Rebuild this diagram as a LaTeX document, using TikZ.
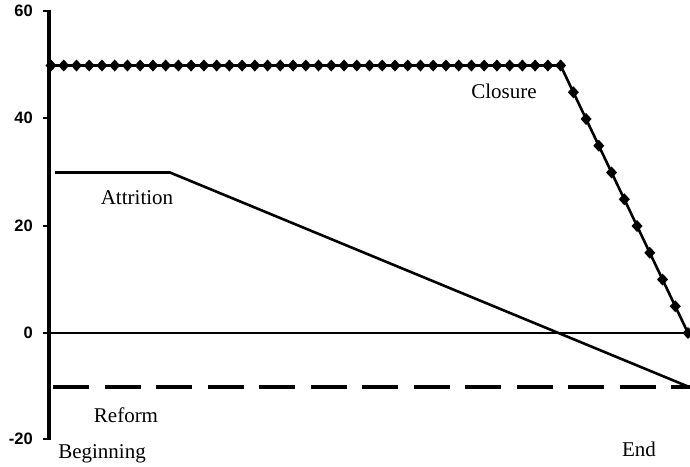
\documentclass[tikz,border=0pt]{standalone}
\usepackage{fontspec}
\setmainfont{Liberation Serif}
\newfontfamily\tickfont{Liberation Sans}
\begin{document}
\begin{tikzpicture}[x=1pt,y=-1pt,
  axisline/.style={line width=3.3pt},
  dataline/.style={line width=2.6pt},
  reformline/.style={line width=4pt,dash pattern=on 36pt off 15.5pt},
  ticklbl/.style={anchor=east,font=\tickfont\bfseries\fontsize{16.5}{16.5}\selectfont,inner sep=0pt},
  lbl/.style={font=\fontsize{21}{21}\selectfont,inner sep=0pt}]
\useasboundingbox (0,0) rectangle (690,466);
\fill[white] (0,0) rectangle (690,466);
% axis
\coordinate (atop) at (49,10);
\coordinate (abot) at (49,440);
\draw[axisline] (atop) -- (abot);
\foreach \v/\yy in {60/11,40/118,20/226,0/333,-20/439}{
  \draw[line width=2.8pt] (43,\yy) -- (49,\yy);
  \node[ticklbl] at (33,\yy) {\v};
}
% zero line
\coordinate (z0) at (49,333);
\coordinate (z1) at (688,333);
\draw[dataline] (z0) -- (z1);
% reform
\coordinate (r0) at (53,386.5);
\coordinate (r1) at (690,386.5);
\draw[reformline] (r0) -- (r1);
% attrition
\coordinate (a0) at (55,172.5);
\coordinate (a1) at (170,172.5);
\coordinate (a2) at (688,386.5);
\draw[dataline] (a0) -- (a1) -- (a2);
% closure
\coordinate (c0) at (51,65.5);
\coordinate (c1) at (560.6,65.5);
\coordinate (c2) at (688,333);
\draw[dataline] (c0) -- (c1) -- (c2);
\foreach \i in {0,...,40}{
  \fill ({51+12.74*\i},65.5) +(0,-6) -- +(5.5,0) -- +(0,6) -- +(-5.5,0) -- cycle;
}
\foreach \i in {41,...,50}{
  \fill ({51+12.74*\i},{333-5.35*(50-5*(\i-40))}) +(0,-6) -- +(5.5,0) -- +(0,6) -- +(-5.5,0) -- cycle;
}
% labels
\node[lbl] (closure) at (504,91) {Closure};
\node[lbl] (attrition) at (137,198) {Attrition};
\node[lbl] (reform) at (126,415) {Reform};
\node[lbl] (beginning) at (102,454) {Beginning};
\node[lbl] (end) at (639,449) {End};
\end{tikzpicture}
\end{document}
